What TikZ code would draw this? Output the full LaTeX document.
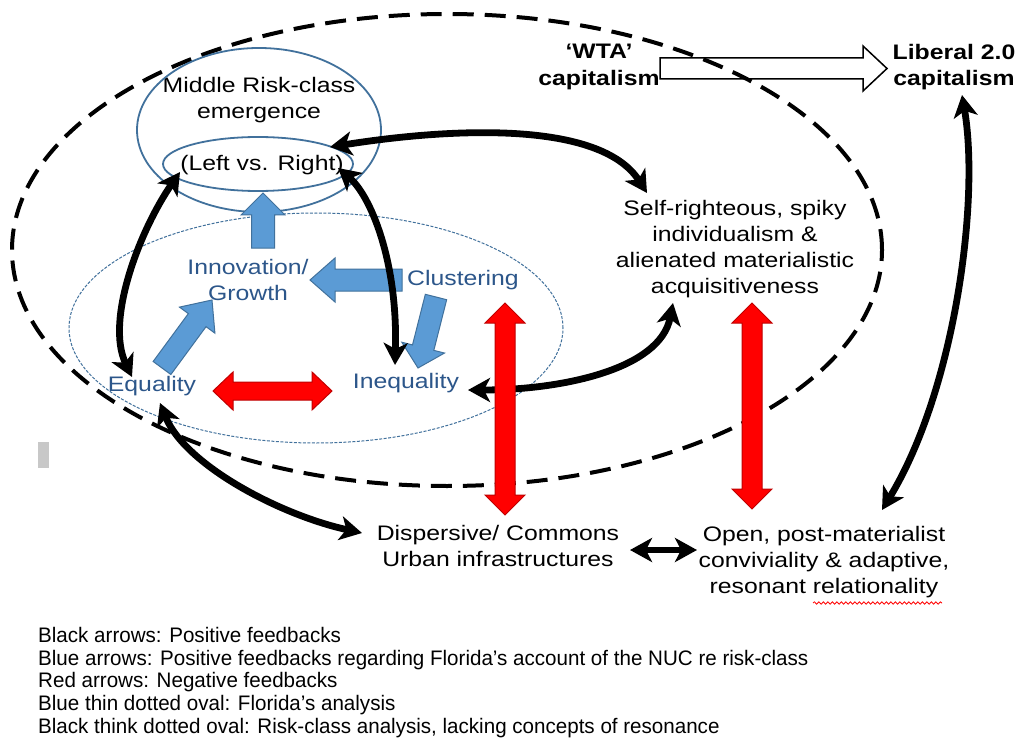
\documentclass[tikz,border=0pt]{standalone}
\usepackage{fontspec}
\setmainfont{Liberation Sans}[FakeStretch=1.18]
\newfontfamily\legendfont{Liberation Sans}[FakeStretch=0.98]
\usetikzlibrary{arrows.meta,calc,decorations.pathmorphing}

\definecolor{ovalblue}{RGB}{65,113,156}
\definecolor{arrowblue}{RGB}{91,155,213}
\definecolor{textblue}{RGB}{44,86,138}
\definecolor{negred}{RGB}{255,0,0}
\definecolor{negredline}{RGB}{192,0,0}
\definecolor{markgray}{RGB}{200,200,200}

% single block arrow: style, tail, tip, shaft half-width, head half-width, head length
\newcommand\blockarrow[6]{%
  \coordinate (ba-h) at ($(#3)!#6!(#2)$);
  \path[#1] ($(#2)!#4!90:(#3)$) -- ($(ba-h)!#4!90:(#3)$) -- ($(ba-h)!#5!90:(#3)$) -- (#3)
    -- ($(ba-h)!#5!-90:(#3)$) -- ($(ba-h)!#4!-90:(#3)$) -- ($(#2)!#4!-90:(#3)$) -- cycle;
}
% double block arrow: style, end A, end B, shaft half-width, head half-width, head length
\newcommand\dblockarrow[6]{%
  \coordinate (da-a) at ($(#2)!#6!(#3)$);
  \coordinate (da-b) at ($(#3)!#6!(#2)$);
  \path[#1] (#2) -- ($(da-a)!#5!90:(#3)$) -- ($(da-a)!#4!90:(#3)$)
    -- ($(da-b)!#4!-90:(#2)$) -- ($(da-b)!#5!-90:(#2)$) -- (#3)
    -- ($(da-b)!#5!90:(#2)$) -- ($(da-b)!#4!90:(#2)$)
    -- ($(da-a)!#4!-90:(#3)$) -- ($(da-a)!#5!-90:(#3)$) -- cycle;
}

\begin{document}
\begin{tikzpicture}[x=1pt,y=-1pt,
  txt/.style={font=\fontsize{21}{26}\selectfont, align=center, inner sep=0pt, text=black},
  boldtxt/.style={txt, font=\fontsize{21}{26.5}\selectfont\bfseries},
  bluetxt/.style={txt, text=textblue},
  legendtxt/.style={font=\fontsize{21}{22.75}\selectfont\legendfont, align=left, inner sep=0pt},
  riskoval/.style={draw=black, line width=4pt, dash pattern=on 21pt off 11pt},
  floridaoval/.style={draw=ovalblue, line width=1pt, dash pattern=on 3pt off 1.5pt},
  classoval/.style={draw=ovalblue, line width=1.8pt},
  bluearrow/.style={fill=arrowblue, draw=ovalblue, line width=1pt, line join=miter},
  redarrow/.style={fill=negred, draw=negredline, line width=1pt, line join=miter},
  hollowarrow/.style={fill=white, draw=black, line width=1.5pt, line join=miter},
  posarrow/.style={draw=black, line width=6.8pt,
    >={Stealth[length=22pt,width=24pt,inset=6pt]}, <->},
]
\useasboundingbox[fill=white] (0,0) rectangle (1020,738);

% ---- text nodes ----
\node[txt] (mrc) at (259,100) {Middle Risk-class\\emergence};
\node[txt] (lvr) at (262,165) {(Left vs. Right)};
\node[boldtxt] (wta) at (599,67) {‘WTA’\\capitalism};
\node[boldtxt] (lib) at (954,67) {Liberal 2.0\\capitalism};
\node[txt] (self) at (735,249) {Self-righteous, spiky\\individualism \&\\alienated materialistic\\acquisitiveness};
\node[bluetxt] (innov) at (248,280) {Innovation/\\Growth};
\node[bluetxt] (clus) at (463,280) {Clustering};
\node[bluetxt] (equ) at (152,386) {Equality};
\node[bluetxt] (inequ) at (406,383) {Inequality};
\node[txt] (disp) at (498,546) {Dispersive/ Commons\\Urban infrastructures};
\node[txt] (open) at (824,562) {Open, post-materialist\\conviviality \& adaptive,\\resonant relationality};

% ---- WTA -> Liberal 2.0 transition ----
\coordinate (wta-out) at (660,68.5);
\coordinate (lib-in) at (887,68.5);
\blockarrow{hollowarrow}{wta-out}{lib-in}{10.5pt}{22.5pt}{24pt}

% ---- ovals ----
\draw[riskoval] (447,250) ellipse [x radius=435pt, y radius=236pt];
\draw[floridaoval] (316,328) ellipse [x radius=247pt, y radius=115pt];
\draw[classoval] (259,130) ellipse [x radius=122pt, y radius=82pt];
\draw[classoval] (258,164) ellipse [x radius=95pt, y radius=27pt];

% ---- blue arrows (Florida's account) ----
\coordinate (innov-up) at (263,248);
\coordinate (lvr-below) at (263,193);
\blockarrow{bluearrow}{innov-up}{lvr-below}{11.5pt}{22pt}{22pt}
\coordinate (clus-w) at (402,280);
\coordinate (innov-e) at (310,280);
\blockarrow{bluearrow}{clus-w}{innov-e}{11pt}{22pt}{25pt}
\coordinate (clus-s) at (436,297);
\coordinate (inequ-n) at (418,368);
\blockarrow{bluearrow}{clus-s}{inequ-n}{11pt}{22pt}{21pt}
\coordinate (equ-ne) at (162,368);
\coordinate (innov-sw) at (212,300);
\blockarrow{bluearrow}{equ-ne}{innov-sw}{11pt}{22pt}{25pt}

% ---- black arrows (positive feedbacks) ----
\coordinate (lvr-r) at (330,147);
\coordinate (self-n) at (647,193);
\draw[posarrow] (lvr-r) .. controls (450,128) and (600,120) .. (self-n);
\coordinate (lvr-l) at (180,172);
\coordinate (equ-n) at (132,377);
\draw[posarrow] (lvr-l) .. controls (140,230) and (105,320) .. (equ-n);
\coordinate (lvr-rb) at (338,168);
\coordinate (inequ-top) at (395,365);
\draw[posarrow] (lvr-rb) .. controls (370,195) and (398,260) .. (inequ-top);
\coordinate (inequ-e) at (468,390);
\coordinate (self-s) at (673,303);
\draw[posarrow] (inequ-e) .. controls (560,390) and (660,370) .. (self-s);
\coordinate (equ-s) at (160,403);
\coordinate (disp-w) at (362,533);
\draw[posarrow] (equ-s) .. controls (185,465) and (280,515) .. (disp-w);
\coordinate (disp-e) at (630,550);
\coordinate (open-w) at (697,550);
\draw[posarrow] (disp-e) -- (open-w);
\coordinate (lib-s) at (962,95);
\coordinate (open-ne) at (882,510);
\draw[posarrow] (lib-s) .. controls (980,200) and (955,390) .. (open-ne);

% ---- red arrows (negative feedbacks) ----
\coordinate (equ-e) at (213,391);
\coordinate (inequ-w) at (332,391);
\dblockarrow{redarrow}{equ-e}{inequ-w}{9pt}{19pt}{20pt}
\coordinate (ineq-nf) at (505,303);
\coordinate (disp-n) at (505,515);
\dblockarrow{redarrow}{ineq-nf}{disp-n}{10pt}{20pt}{20pt}
\coordinate (self-nf) at (752,303);
\coordinate (open-n) at (752,509);
\dblockarrow{redarrow}{self-nf}{open-n}{10pt}{20pt}{20pt}

% ---- spelling mark under "relationality" ----
\draw[negred, line width=0.8pt, decorate,
  decoration={snake, amplitude=1.2pt, segment length=4.5pt}] (813,603) -- (942,603);

% ---- small grey marker ----
\fill[markgray] (38,442) rectangle (49,468);

% ---- legend ----
\node[legendtxt, anchor=north west] (legend) at (38,627) {Black arrows: Positive feedbacks\\
Blue arrows: Positive feedbacks regarding Florida’s account of the NUC re risk-class\\
Red arrows: Negative feedbacks\\
Blue thin dotted oval: Florida’s analysis\\
Black think dotted oval: Risk-class analysis, lacking concepts of resonance};
\end{tikzpicture}
\end{document}
